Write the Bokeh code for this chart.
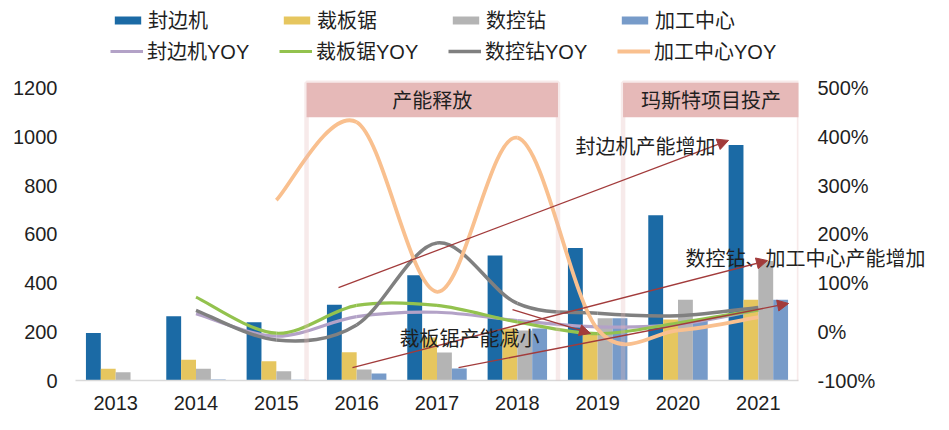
from bokeh.plotting import figure
from bokeh.models import (ColumnDataSource, FactorRange, Range1d, LinearAxis, FixedTicker,
                          PrintfTickFormatter, Legend, LegendItem, BoxAnnotation, Label,
                          Arrow, NormalHead)
from bokeh.transform import dodge
from bokeh.embed import file_html
from bokeh.resources import INLINE

# ---------------- data ----------------
years = ["2013", "2014", "2015", "2016", "2017", "2018", "2019", "2020", "2021"]
edge_banders = [195, 264, 239, 311, 432, 513, 544, 678, 966]     # 封边机
panel_saws = [48, 85, 79, 116, 176, 213, 190, 250, 331]          # 裁板锯
cnc_drills = [34, 48, 38, 45, 115, 205, 255, 331, 490]           # 数控钻
machining_centers = [0, 4, 3, 29, 49, 213, 255, 250, 331]        # 加工中心

yoy_years_a = years[1:]   # YOY series starting 2014
edge_yoy = [37, -9, 31, 40, 23, 10, 15, 45]
saw_yoy = [71, -3, 54, 54, 20, -4, 18, 45]
drill_yoy = [44, -17, 14, 182, 58, 38, 33, 50]
yoy_years_b = years[2:]   # 加工中心YOY starts 2015
center_yoy = [270, 430, 82, 398, 5, 3, 30]

left_ticks = [0, 200, 400, 600, 800, 1000, 1200]
right_ticks = [-100, 0, 100, 200, 300, 400, 500]

bar_names = ["封边机", "裁板锯", "数控钻", "加工中心"]
line_names = ["封边机YOY", "裁板锯YOY", "数控钻YOY", "加工中心YOY"]

note_edge = "封边机产能增加"
note_saw = "裁板锯产能减小"
note_drill = "数控钻、加工中心产能增加"
note_drill_level = 505     # vertical position of that note, left-axis units

# ---------------- style ----------------
BAR_COLORS = ["#1B6AA5", "#E6C65F", "#B4B4B4", "#779BC9"]
LINE_COLORS = ["#B3A2C7", "#93C24E", "#808080", "#F9C08F"]
PINK = "#E6B9B8"
ARROW = "#A23B3B"
TXT = "#1F1F1F"
CJK = "Noto Sans CJK SC"
LAT = "Liberation Sans"

W, H = 949, 430
TOP = 8
FRAME_H = 372
px_per_unit = 292.5 / 1200.0
y_top = FRAME_H / px_per_unit
r_top = -100 + FRAME_H * 600 / 292.5

p = figure(x_range=FactorRange(*years), y_range=Range1d(0, y_top),
           width=W, height=H, output_backend="svg", toolbar_location=None,
           min_border_left=75, min_border_right=151, min_border_top=TOP,
           min_border_bottom=H - FRAME_H - TOP)
p.extra_y_ranges = {"yoy": Range1d(-100, r_top)}
p.outline_line_color = None
p.xgrid.visible = False
p.ygrid.visible = False
p.background_fill_color = "white"
p.border_fill_color = "white"

# left axis
p.yaxis.ticker = FixedTicker(ticks=left_ticks)
p.yaxis.axis_line_color = None
p.yaxis.major_tick_line_color = None
p.yaxis.minor_tick_line_color = None
p.yaxis.major_tick_out = 0
p.yaxis.major_tick_in = 0
p.yaxis.major_label_standoff = 18
p.yaxis.major_label_text_font = LAT
p.yaxis.major_label_text_font_size = "20px"
p.yaxis.major_label_text_color = TXT

# right axis (percent)
ra = LinearAxis(y_range_name="yoy", ticker=FixedTicker(ticks=right_ticks),
                formatter=PrintfTickFormatter(format="%d%%"))
ra.axis_line_color = None
ra.major_tick_line_color = None
ra.minor_tick_line_color = None
ra.major_tick_out = 0
ra.major_tick_in = 0
ra.major_label_standoff = 19
ra.major_label_text_font = LAT
ra.major_label_text_font_size = "20px"
ra.major_label_text_color = TXT
p.add_layout(ra, "right")

# the long note reaches past the plot frame; it is drawn by an outer axis whose
# label is pulled back over the frame (frame-bound labels would be clipped)
na = LinearAxis(ticker=FixedTicker(ticks=[note_drill_level]),
                major_label_overrides={note_drill_level: note_drill})
na.axis_line_color = None
na.major_tick_line_color = None
na.minor_tick_line_color = None
na.major_tick_out = 0
na.major_tick_in = 0
na.major_label_standoff = -193
na.major_label_text_font = CJK
na.major_label_text_font_size = "20px"
na.major_label_text_color = TXT
p.add_layout(na, "right")

# x axis
p.xaxis.axis_line_color = "#D9D9D9"
p.xaxis.axis_line_width = 1.5
p.xaxis.major_tick_line_color = None
p.xaxis.minor_tick_line_color = None
p.xaxis.major_label_standoff = 9
p.xaxis.major_label_text_font = LAT
p.xaxis.major_label_text_font_size = "20px"
p.xaxis.major_label_text_color = TXT

# ---------------- bars ----------------
src = ColumnDataSource(dict(year=years, a=edge_banders, b=panel_saws,
                            c=cnc_drills, d=machining_centers))
bw = 0.185
offsets = [-1.5 * bw, -0.5 * bw, 0.5 * bw, 1.5 * bw]
bar_renderers = []
for col, off, colr in zip(["a", "b", "c", "d"], offsets, BAR_COLORS):
    r = p.vbar(x=dodge("year", off, range=p.x_range), top=col, width=bw,
               source=src, fill_color=colr, line_color=None)
    bar_renderers.append(r)


# ---------------- smooth YOY lines (Bezier segments) ----------------
def bezier_source(cats, vals):
    xs = [years.index(c) + 0.5 for c in cats]
    n = len(vals)
    d = dict(x0=[], y0=[], x1=[], y1=[], cx0=[], cy0=[], cx1=[], cy1=[])
    for i in range(n - 1):
        im1 = max(i - 1, 0)
        ip2 = min(i + 2, n - 1)
        d["x0"].append(xs[i]); d["y0"].append(vals[i])
        d["x1"].append(xs[i + 1]); d["y1"].append(vals[i + 1])
        d["cx0"].append(xs[i] + (xs[i + 1] - xs[im1]) / 6.0)
        d["cy0"].append(vals[i] + (vals[i + 1] - vals[im1]) / 6.0)
        d["cx1"].append(xs[i + 1] - (xs[ip2] - xs[i]) / 6.0)
        d["cy1"].append(vals[i + 1] - (vals[ip2] - vals[i]) / 6.0)
    return ColumnDataSource(d)


series = [(yoy_years_a, edge_yoy), (yoy_years_a, saw_yoy),
          (yoy_years_a, drill_yoy), (yoy_years_b, center_yoy)]
widths = [3.2, 3.2, 3.5, 3.8]
line_renderers = []
for (cats, vals), colr, lw in zip(series, LINE_COLORS, widths):
    lr = p.bezier(x0="x0", y0="y0", x1="x1", y1="y1", cx0="cx0", cy0="cy0",
                  cx1="cx1", cy1="cy1", source=bezier_source(cats, vals),
                  line_color=colr, line_width=lw, y_range_name="yoy")
    line_renderers.append(lr)

# ---------------- legends ----------------
def add_legend(name, rend, x, y, gh):
    lg = Legend(items=[LegendItem(label=name, renderers=[rend])], location=(x, y),
                orientation="horizontal", padding=0, margin=0, spacing=0,
                border_line_color=None, background_fill_alpha=0,
                glyph_width=33, glyph_height=gh, label_standoff=4,
                label_height=24, label_text_font=LAT + ", " + CJK,
                label_text_font_size="20px", label_text_color=TXT)
    p.add_layout(lg)

for i, (nm, r) in enumerate(zip(bar_names, bar_renderers)):
    add_legend(nm, r, 36 + 169 * i, 346, 10)
for i, (nm, r) in enumerate(zip(line_names, line_renderers)):
    add_legend(nm, r, 35 + 169 * i, 315, 24)

# ---------------- highlight boxes ----------------
box_top, box_head, box_bottom = 1222, 1080, -185
for l, r_, title, tx in [(2.876, 6.006, "产能释放", 4.44),
                         (6.816, 9.007, "玛斯特项目投产", 7.91)]:
    p.add_layout(BoxAnnotation(left=l, right=r_, top=box_head, bottom=box_top,
                               fill_color=PINK, fill_alpha=1, line_color=None))
    p.add_layout(BoxAnnotation(left=l, right=r_, top=box_top, bottom=box_bottom,
                               fill_color=None, fill_alpha=0, line_color=PINK,
                               line_width=4.5))
    p.add_layout(Label(x=tx, y=1151, text=title, text_align="center",
                       text_baseline="middle", text_font=CJK,
                       text_font_size="20px", text_color=TXT))

# ---------------- arrows & notes ----------------
arrows = [((3.274, 381), (8.129, 985)),
          ((3.448, 53), (8.614, 492)),
          ((4.768, 53), (8.876, 316)),
          ((5.44, 291), (6.411, 193))]
for (xs_, ys_), (xe, ye) in arrows:
    p.add_layout(Arrow(end=NormalHead(size=11, fill_color=ARROW, line_color=ARROW),
                       x_start=xs_, y_start=ys_, x_end=xe, y_end=ye,
                       line_color=ARROW, line_width=1.3))

for x_, y_, t in [(6.224, 964, note_edge),
                  (4.033, 178, note_saw)]:
    p.add_layout(Label(x=x_, y=y_, text=t, text_align="left", text_baseline="middle",
                       text_font=CJK, text_font_size="20px", text_color=TXT))

open("out.html", "w").write(file_html(p, INLINE))
